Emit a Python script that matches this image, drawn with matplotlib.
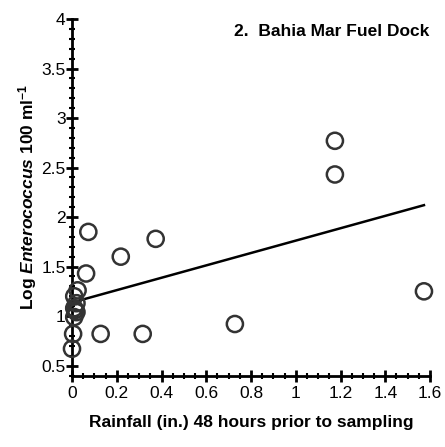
import numpy as np
import matplotlib
matplotlib.use("Agg")
import matplotlib.pyplot as plt
from matplotlib.ticker import MultipleLocator

plt.rcParams['font.family'] = ['Liberation Sans', 'DejaVu Sans']
plt.rcParams['mathtext.fontset'] = 'custom'
plt.rcParams['mathtext.rm'] = 'Liberation Sans:bold'
plt.rcParams['mathtext.bf'] = 'Liberation Sans:bold'
plt.rcParams['mathtext.it'] = 'Liberation Sans:bold:italic'

# Rainfall (in.) in the 48 h before sampling vs log Enterococcus counts
rainfall = [0.0, 0.005, 0.01, 0.02, 0.015, 0.01, 0.02, 0.01, 0.025,
            0.063, 0.073, 0.128, 0.218, 0.316, 0.374, 0.728, 1.175, 1.175, 1.573]
log_entero = [0.67, 0.82, 0.99, 1.04, 1.06, 1.08, 1.13, 1.20, 1.26,
              1.43, 1.85, 0.82, 1.60, 0.82, 1.78, 0.92, 2.77, 2.43, 1.25]

# Linear regression line
fit_intercept = 1.137
fit_slope = 0.625

fig = plt.figure(figsize=(4.45, 4.47), dpi=100)
ax = fig.add_axes([72 / 445, 1 - 375.5 / 447, (430 - 72) / 445, (375.5 - 19) / 447])

ax.scatter(rainfall, log_entero, s=135, facecolors='none', edgecolors='#333333',
           linewidths=1.8, zorder=3, clip_on=False)

xs = np.array([0.0, max(rainfall)])
ax.plot(xs, fit_intercept + fit_slope * xs, color='black', linewidth=1.8, zorder=2)

ax.set_xlim(0, 1.6)
ax.set_ylim(0.4, 4)
ax.xaxis.set_minor_locator(MultipleLocator(0.05))
ax.yaxis.set_minor_locator(MultipleLocator(0.1))
ax.set_xticks(np.arange(0, 1.61, 0.2))
ax.set_xticklabels(['0', '0.2', '0.4', '0.6', '0.8', '1', '1.2', '1.4', '1.6'])
ax.set_yticks(np.arange(0.5, 4.01, 0.5))
ax.set_yticklabels(['0.5', '1', '1.5', '2', '2.5', '3', '3.5', '4'])

for side in ['top', 'right']:
    ax.spines[side].set_visible(False)
for side in ['left', 'bottom']:
    ax.spines[side].set_linewidth(2)

ax.tick_params(which='major', direction='inout', length=9, width=2, labelsize=12.5)
ax.tick_params(axis='x', which='major', pad=3)
ax.tick_params(axis='y', which='major', pad=0)
ax.tick_params(which='minor', direction='inout', length=4, width=1.5)

ax.set_xlabel('Rainfall (in.) 48 hours prior to sampling', fontsize=12.5,
              fontweight='bold', labelpad=10)
ax.set_ylabel(r'Log $\mathit{Enterococcus}$ 100 ml$^{-1}$', fontsize=12.5,
              fontweight='bold', labelpad=2)

ax.text(0.997, 0.985, '2.  Bahia Mar Fuel Dock', transform=ax.transAxes,
        ha='right', va='top', fontsize=12.5, fontweight='bold')

fig.savefig('out.png', dpi=100)
